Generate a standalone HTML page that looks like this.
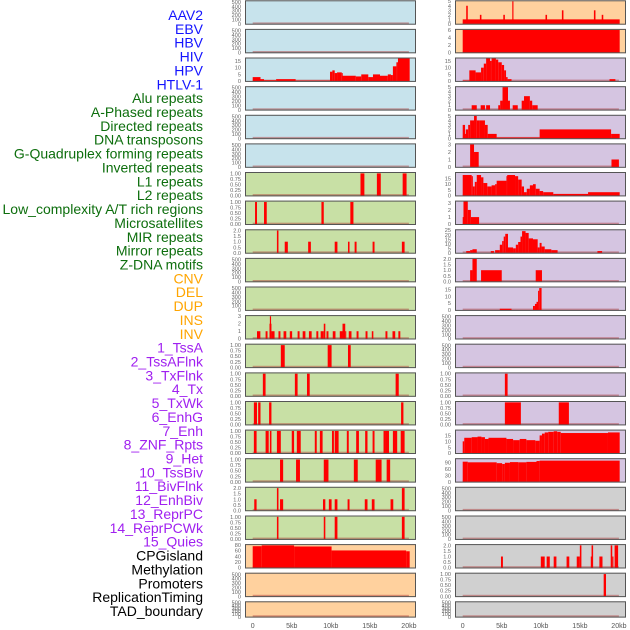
<!DOCTYPE html>
<html><head><meta charset="utf-8"><style>
html,body{margin:0;padding:0;background:#fff;width:630px;height:630px;overflow:hidden}
svg{display:block;font-family:"Liberation Sans",sans-serif}
</style></head><body>
<svg id="chart" width="630" height="630" viewBox="0 0 630 630"></svg>
<script>
// ---------- data ----------
const trackLabels = ["AAV2","EBV","HBV","HIV","HPV","HTLV-1","Alu repeats","A-Phased repeats","Directed repeats","DNA transposons","G-Quadruplex forming repeats","Inverted repeats","L1 repeats","L2 repeats","Low_complexity A/T rich regions","Microsatellites","MIR repeats","Mirror repeats","Z-DNA motifs","CNV","DEL","DUP","INS","INV","1_TssA","2_TssAFlnk","3_TxFlnk","4_Tx","5_TxWk","6_EnhG","7_Enh","8_ZNF_Rpts","9_Het","10_TssBiv","11_BivFlnk","12_EnhBiv","13_ReprPC","14_ReprPCWk","15_Quies","CPGisland","Methylation","Promoters","ReplicationTiming","TAD_boundary"];
const labelGroups = [6,13,5,15,5]; // blue, green, orange, purple, black
const groupColors = ["#1414ff","#0d6e0d","#ffa500","#a020f0","#000000"];
const xTickLabels = ["0","5kb","10kb","15kb","20kb"];
const xTickValues = [0,5,10,15,20];

const leftBg = ["b","b","b","b","b","b","g","g","g","g","g","g","g","g","g","g","g","g","g","o","o","o"];
const rightBg = ["o","o","p","p","p","p","p","p","p","p","p","p","p","p","p","p","p","s","s","s","s","s"];
const bgColors = {b:"#c7e3ec",g:"#c8e0a5",o:"#ffd19e",p:"#d5c5e1",s:"#d0d0d0"};

const T500=[0,100,200,300,400,500], T1=[0,0.25,0.5,0.75,1], T2=[0,0.5,1,1.5,2], T15=[0,5,10,15];
const leftTicks = [T500,T500,T15,T500,T500,T500,T1,T1,T2,T500,T500,[0,1,2,3],T1,T1,T1,T1,T1,T2,T1,[0,20,40,60,80],T500,T500];
const leftYMax = [520,520,17,520,520,520,1.03,1.03,2.05,520,520,3.05,1.03,1.03,1.03,1.03,1.03,2.05,1.03,81,520,520];
const rightTicks = [[0,1,2,3,4,5],[0,2,4,6],T15,[0,1,2,3,4,5],[0,1,2,3,4,5],[0,1,2,3],T15,[0,1,2,3],[0,5,10,15,20,25],T2,T15,T500,T500,T1,T1,T15,[0,30,60,90],T500,T500,T2,T1,T500];
const rightYMax = [5.05,6.1,17,5.05,5.1,3.05,20,3.2,25.3,2.03,16.6,520,520,1.03,1.03,19.3,108,520,520,2.05,1.03,520];

// bars as [startKb, endKb, value]
const L2 = [[0,1,3],[1,1.45,1.5],[1.45,3,0.7],[3,5.5,1.5],[5.5,9.9,0.5],[9.9,10.2,7],[10.2,10.5,8],[10.5,10.8,6],[10.8,11.4,6.5],[11.4,11.5,6],[11.5,13.2,4],[13.2,13.9,3.5],[13.9,14.8,5],[14.8,15.4,3],[15.4,16.3,5],[16.3,17.3,4],[17.3,17.7,5],[17.7,17.95,4.5],[17.95,18.4,11],[18.4,18.6,14],[18.6,20.1,17]];
const L6 = [[13.8,14.3,1],[15.9,16.4,1],[19.2,19.7,1]];
const L7 = [[0.3,0.55,1],[1.45,1.8,1],[8.8,9.1,1],[12.5,12.9,1]];
const L8 = [[3.1,3.3,2],[4.1,4.5,1],[7.1,7.45,1],[10.5,10.85,1],[12.2,12.4,1],[13.05,13.3,1],[15.35,15.6,1],[19.1,19.45,1]];
const L11 = [[0.55,0.98,1],[1.65,1.9,1],[2.15,2.4,2],[2.2,2.35,3],[2.4,2.8,1],[3.3,3.55,1],[3.95,4.3,1],[4.75,5.05,1],[5.75,6,1],[6.4,6.75,1],[7.2,7.55,1],[8.15,8.4,1],[8.7,9.1,1],[9.1,9.3,2],[9.45,9.7,1],[10.25,10.6,1],[11.15,11.5,1],[11.5,11.85,2],[11.85,11.95,1],[12.3,12.65,1],[13.3,13.55,1],[14.45,14.7,1],[15.25,15.45,1],[17,17.25,1],[17.9,18.25,1],[18.65,18.9,1]];
const L12 = [[3.6,4.1,1],[9.6,10.1,1],[12.2,12.55,1]];
const L13 = [[1.3,1.65,1],[5.4,5.75,1],[6.95,7.3,1],[18.3,18.7,1]];
const L14 = [[0.15,0.55,1],[0.7,1,1],[2.1,2.4,1],[19,19.3,1]];
const L15 = [[0.15,0.5,1],[1.65,2.05,1],[2.2,2.4,1],[3.1,3.6,1],[5,5.3,1],[5.65,6.15,1],[7.95,8.2,1],[8.6,8.95,1],[10.15,10.4,1],[10.5,11,1],[12.05,12.3,1],[13.25,13.6,1],[14.4,14.7,1],[15.35,15.6,1],[16.75,17,1],[17,17.45,1],[17.95,18.5,1],[18.95,19.45,1]];
const L16 = [[3.5,3.9,1],[5.55,6.05,1],[9.1,9.7,1],[12.95,13.45,1],[15.75,16.5,1],[17.15,17.6,1]];
const L17 = [[0.2,0.5,1],[3.1,3.3,2],[3.5,3.9,1],[9,9.3,1],[9.75,10.1,1],[10.5,10.85,1],[12.15,12.4,1],[14.35,14.7,1],[15.25,15.6,1],[17.65,18,1],[19.1,19.45,2]];
const L18 = [[3.1,3.3,1],[9.1,9.3,1],[10.5,10.85,1],[19.1,19.45,1]];
const L19 = [[0,1.15,76],[1.15,5.3,79],[5.3,10.1,75],[10.1,19.65,61],[19.65,20.1,58]];

const R0 = [[0,20.1,1],[0.45,0.65,4],[2.2,2.4,2],[5.2,5.4,2],[6.35,6.5,5],[10.6,10.8,2],[12.7,12.9,3],[16.8,17,3],[17.8,18,2]];
const R1 = [[0,20.1,6]];
const R2 = [[0,0.85,0.5],[0.85,1.65,8],[1.65,2.35,6.5],[2.35,2.7,10],[2.7,3,13],[3,3.5,17],[3.5,3.7,15],[3.7,4.25,17],[4.25,4.55,16],[4.55,5,14],[5,5.3,12],[5.3,5.55,8],[5.55,5.75,3],[5.75,6.25,1.5],[18.8,19.55,1.5]];
const R3 = [[1.15,1.8,1],[2.3,2.85,1],[3,3.5,1],[4.55,4.8,1],[4.8,5.1,2],[5.1,5.8,5],[5.8,6.05,2],[6.4,7.05,1],[7.55,7.85,2],[7.85,8.6,3],[8.6,8.9,2],[8.9,9.6,1]];
const R4 = [[0,0.3,3],[0.3,0.4,1],[0.4,0.7,2],[0.7,0.95,3],[0.95,1.45,4],[1.45,1.8,5],[1.8,2.2,4],[2.2,2.85,4],[2.85,3.2,3],[3.2,4.35,1],[4.35,9.85,0.2],[9.85,19,2],[19,20.1,1]];
const R5 = [[0.95,1.45,3],[1.45,2.05,2],[19.05,20,1]];
const R6 = [[0,1.15,18],[1.15,1.3,17],[1.3,1.55,8],[1.55,1.8,12],[1.8,2.35,18],[2.35,2.65,16],[2.65,3.15,11],[3.15,3.7,8],[3.7,4.15,9],[4.15,4.35,10],[4.35,5.6,13],[5.6,5.7,17],[5.7,6.7,18],[6.7,7.1,17],[7.1,7.55,14],[7.55,7.85,8],[7.85,8.2,3],[8.2,8.6,6],[8.6,9,9],[9,9.35,10],[9.35,9.85,6],[9.85,10.3,4],[10.3,11.6,3],[11.6,16.05,1.5],[16.05,20.1,3]];
const R7 = [[0,0.1,1],[0.1,0.65,3.2],[0.65,1.05,2],[1.05,2.1,1]];
const R8 = [[0.45,0.95,2],[0.95,1.25,3],[1.25,1.8,4],[3.6,4,2],[4.15,4.75,3],[4.75,5.05,9],[5.05,5.25,13],[5.25,5.45,18],[5.45,5.8,21],[5.8,6.45,6],[6.45,6.8,5],[6.8,7.1,9],[7.1,7.4,12],[7.4,7.6,18],[7.6,8.05,24],[8.05,8.45,22],[8.45,9,16],[9,9.6,15],[9.6,9.85,6],[9.85,10.1,11],[10.1,10.5,7],[10.5,11.35,4],[11.35,12.15,3],[17.25,17.85,2]];
const R9 = [[0.95,1.25,1],[1.25,1.8,2],[2.35,5,1],[9.35,10.15,1]];
const R10 = [[4.75,6.25,1],[9,9.25,3],[9.25,9.45,4.5],[9.45,9.65,6],[9.65,9.8,14],[9.8,10.1,16]];
const R13 = [[5.4,5.75,1]];
const R14 = [[5.4,7.45,1],[12.3,13.6,1]];
const R15 = [[0,0.2,10],[0.2,1.15,13],[1.15,1.9,13.5],[1.9,2.4,14],[2.4,2.85,13.5],[2.85,3.3,12],[3.3,5.6,13],[5.6,6.45,12],[6.45,7.3,11],[7.3,8.15,12],[8.15,9.3,11],[9.3,9.85,10.5],[9.85,10.15,15],[10.15,10.5,16.5],[10.5,10.95,17.5],[10.95,11.65,18],[11.65,12.1,18.5],[12.1,12.55,18],[12.55,18.6,17],[18.6,20.1,17.5]];
const R16 = [[0,0.65,95],[0.65,4.35,92],[4.35,5.05,88],[5.05,5.4,84],[5.4,6.05,90],[6.05,7.1,93],[7.1,8.15,92],[8.15,9.45,94],[9.45,9.85,98],[9.85,20.1,100]];
const R19 = [[4.9,5.15,1],[10,10.5,1],[10.75,11.15,1],[11.65,12,1],[13.3,13.65,1],[14.6,15,1],[15,15.2,2],[16.4,16.6,1],[16.5,16.7,2],[17.5,17.9,1],[18.95,19.15,2],[19.15,19.3,1],[19.45,19.9,2]];
const R20 = [[18.05,18.35,1]];

const leftBars = {2:L2,6:L6,7:L7,8:L8,11:L11,12:L12,13:L13,14:L14,15:L15,16:L16,17:L17,18:L18,19:L19};
const rightBars = {0:R0,1:R1,2:R2,3:R3,4:R4,5:R5,6:R6,7:R7,8:R8,9:R9,10:R10,13:R13,14:R14,15:R15,16:R16,19:R19,20:R20};

// ---------- drawing ----------
const NS = "http://www.w3.org/2000/svg";
const svg = document.getElementById("chart");
function el(tag, attrs, parent) {
  const e = document.createElementNS(NS, tag);
  for (const k in attrs) e.setAttribute(k, attrs[k]);
  (parent || svg).appendChild(e);
  return e;
}
const cols = [{px:245, pw:171, x0:252.7, tx:241, bg:leftBg, ticks:leftTicks, ymax:leftYMax, bars:leftBars, side:"left"},
              {px:455, pw:171, x0:462.7, tx:451, bg:rightBg, ticks:rightTicks, ymax:rightYMax, bars:rightBars, side:"right"}];
const KB = 7.81;
function rowTop(i){ return i*28.62 + 0.3; }
function rowH(i){ return i===21 ? 16.3 : 24.4; }

// labels
let gi = 0, gc = 0;
trackLabels.forEach((t, i) => {
  const color = groupColors[gi];
  const tx = el("text", {x:203, y:(15 + i*13.86 + 5).toFixed(1), "text-anchor":"end", "font-size":"14", fill:color});
  
  
  tx.textContent = t;
  gc++; if (gc >= labelGroups[gi]) { gi++; gc = 0; }
});

cols.forEach(c => {
  const xs = kb => c.x0 + kb*KB;
  for (let i = 0; i < 22; i++) {
    const top = rowTop(i), h = rowH(i);
    const ymax = c.ymax[i];
    const bottom = top + h - 0.8;
    const ys = v => bottom - (v/ymax)*(h - 1.5);
    const g = el("g", {});
    
    
    el("rect", {x:c.px, y:top.toFixed(1), width:c.pw, height:h.toFixed(1), fill:bgColors[c.bg[i]]}, g);
    el("rect", {x:xs(0).toFixed(1), y:(ys(0)-1.5).toFixed(1), width:(20*KB).toFixed(1), height:2, fill:"rgba(170,50,50,0.45)"}, g);
    const bars = c.bars[i] || [];
    bars.forEach(b => {
      const x1 = xs(b[0]), x2 = xs(b[1]), yt = Math.max(ys(b[2]), top);
      const r = el("rect", {x:x1.toFixed(2), y:yt.toFixed(2), width:Math.max(x2-x1,1).toFixed(2), height:(bottom-yt).toFixed(2), fill:"#ff0000"}, g);
      
      
    });
    el("rect", {x:c.px+0.5, y:(top+0.5).toFixed(1), width:c.pw-1, height:(h-1).toFixed(1), fill:"none", stroke:"#555", "stroke-width":1}, g);
    c.ticks[i].forEach(v => {
      const tk = el("text", {x:c.tx, y:(ys(v)+2).toFixed(1), "text-anchor":"end", "font-size":"5.6", fill:"#666"}, g);
      
      
      tk.textContent = (ymax < 1.5 && ymax > 1) ? v.toFixed(2) : (ymax > 1.5 && ymax < 2.2) ? v.toFixed(1) : String(v);
    });
  }
  xTickValues.forEach((v, k) => {
    const t = el("text", {x:xs(v).toFixed(1), y:628, "text-anchor":"middle", "font-size":"7", fill:"#555"});
    
    
    t.textContent = xTickLabels[k];
  });
});
</script>
</body></html>
